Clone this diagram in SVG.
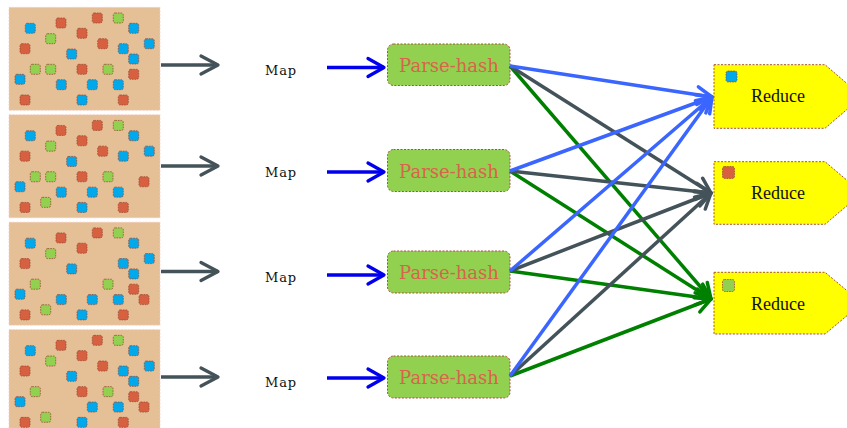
<svg xmlns="http://www.w3.org/2000/svg" width="847" height="428" viewBox="0 0 847 428">
  <style>
    .tile{fill:#e5bf96;stroke:#f4cfc8;stroke-width:0.8;stroke-dasharray:2 1.5}
    .sq{stroke:#9a4b35;stroke-width:0.8;stroke-dasharray:1.6 1}
    .r{fill:#d6603f}
    .b{fill:#00a9ec}
    .g{fill:#92d050}
    .map{font-family:"DejaVu Serif",serif;font-size:13px;letter-spacing:0.9px;fill:#111;text-anchor:middle}
    .ph rect{fill:#92d050;stroke:#a5523a;stroke-width:1;stroke-dasharray:2 1.5}
    .ph text{font-family:"DejaVu Serif",serif;font-size:18px;fill:#d8654a;text-anchor:middle}
    .rd path{fill:#ffff00;stroke:#a5523a;stroke-width:1;stroke-dasharray:2 1.5}
    .rd text{font-family:"Liberation Serif",serif;font-size:18px;fill:#111;text-anchor:middle}
    .cg{stroke:#44535a;stroke-width:3.3;fill:none}
    .cb{stroke:#0000ee;stroke-width:3.3;fill:none}
    .fb{stroke:#3a66ff;stroke-width:3.5;fill:none}
    .fg{stroke:#44535a;stroke-width:3.5;fill:none}
    .fn{stroke:#008000;stroke-width:3.5;fill:none}
  </style>
  <defs>
    <marker id="hGray" markerUnits="userSpaceOnUse" viewBox="-22 -12 26 24" refX="0" refY="0" markerWidth="26" markerHeight="24" orient="auto" overflow="visible">
      <path d="M-17,-9 L0,0 L-17,9" fill="none" stroke="#44535a" stroke-width="3.3" stroke-linecap="round" stroke-linejoin="round"/>
    </marker>
    <marker id="hBlue" markerUnits="userSpaceOnUse" viewBox="-22 -12 26 24" refX="0" refY="0" markerWidth="26" markerHeight="24" orient="auto" overflow="visible">
      <path d="M-16,-9 L0,0 L-16,9" fill="none" stroke="#0000ee" stroke-width="3.3" stroke-linecap="round" stroke-linejoin="round"/>
    </marker>
    <marker id="hFanBlue" markerUnits="userSpaceOnUse" viewBox="-22 -12 26 24" refX="0" refY="0" markerWidth="26" markerHeight="24" orient="auto" overflow="visible">
      <path d="M-15,-8 L0,0 L-15,8" fill="none" stroke="#3a66ff" stroke-width="3.5" stroke-linecap="round" stroke-linejoin="round"/>
    </marker>
    <marker id="hFanGray" markerUnits="userSpaceOnUse" viewBox="-22 -12 26 24" refX="0" refY="0" markerWidth="26" markerHeight="24" orient="auto" overflow="visible">
      <path d="M-15,-8 L0,0 L-15,8" fill="none" stroke="#44535a" stroke-width="3.5" stroke-linecap="round" stroke-linejoin="round"/>
    </marker>
    <marker id="hFanGreen" markerUnits="userSpaceOnUse" viewBox="-22 -12 26 24" refX="0" refY="0" markerWidth="26" markerHeight="24" orient="auto" overflow="visible">
      <path d="M-15,-8 L0,0 L-15,8" fill="none" stroke="#008000" stroke-width="3.5" stroke-linecap="round" stroke-linejoin="round"/>
    </marker>
  </defs>

  <!-- input splits: tan tiles scattered with coloured records -->
  <g id="tile-1" transform="translate(0,7.3)">
    <rect class="tile" x="9" y="0" width="151" height="103"/>
    <rect class="sq r" x="92.3" y="5.7" width="10" height="10" rx="2"/>
    <rect class="sq g" x="113.3" y="5.7" width="10" height="10" rx="2"/>
    <rect class="sq r" x="56" y="10.7" width="10" height="10" rx="2"/>
    <rect class="sq b" x="25.3" y="16" width="10" height="10" rx="2"/>
    <rect class="sq b" x="128.7" y="16" width="10" height="10" rx="2"/>
    <rect class="sq r" x="77" y="21" width="10" height="10" rx="2"/>
    <rect class="sq g" x="45.7" y="26.4" width="10" height="10" rx="2"/>
    <rect class="sq r" x="97.7" y="31.4" width="10" height="10" rx="2"/>
    <rect class="sq b" x="144.3" y="31.4" width="10" height="10" rx="2"/>
    <rect class="sq r" x="20" y="36.4" width="10" height="10" rx="2"/>
    <rect class="sq b" x="118.3" y="36.4" width="10" height="10" rx="2"/>
    <rect class="sq b" x="66.7" y="41.7" width="10" height="10" rx="2"/>
    <rect class="sq b" x="128.7" y="46.7" width="10" height="10" rx="2"/>
    <rect class="sq g" x="30.3" y="57" width="10" height="10" rx="2"/>
    <rect class="sq g" x="45.7" y="57" width="10" height="10" rx="2"/>
    <rect class="sq r" x="77" y="57" width="10" height="10" rx="2"/>
    <rect class="sq g" x="103" y="57" width="10" height="10" rx="2"/>
    <rect class="sq r" x="128.7" y="62" width="10" height="10" rx="2"/>
    <rect class="sq b" x="15" y="67" width="10" height="10" rx="2"/>
    <rect class="sq b" x="56.3" y="72.4" width="10" height="10" rx="2"/>
    <rect class="sq b" x="87.3" y="72.4" width="10" height="10" rx="2"/>
    <rect class="sq b" x="113.3" y="72.4" width="10" height="10" rx="2"/>
    <rect class="sq r" x="20" y="87.7" width="10" height="10" rx="2"/>
    <rect class="sq b" x="77" y="87.7" width="10" height="10" rx="2"/>
    <rect class="sq r" x="118.3" y="87.7" width="10" height="10" rx="2"/>
  </g>

  <g id="tile-2" transform="translate(0,114.75)">
    <rect class="tile" x="9" y="0" width="151" height="103"/>
    <rect class="sq r" x="92.3" y="5.7" width="10" height="10" rx="2"/>
    <rect class="sq g" x="113.3" y="5.7" width="10" height="10" rx="2"/>
    <rect class="sq r" x="56" y="10.7" width="10" height="10" rx="2"/>
    <rect class="sq b" x="25.3" y="16" width="10" height="10" rx="2"/>
    <rect class="sq b" x="128.7" y="16" width="10" height="10" rx="2"/>
    <rect class="sq r" x="77" y="21" width="10" height="10" rx="2"/>
    <rect class="sq g" x="45.7" y="26.4" width="10" height="10" rx="2"/>
    <rect class="sq r" x="97.7" y="31.4" width="10" height="10" rx="2"/>
    <rect class="sq b" x="144.3" y="31.4" width="10" height="10" rx="2"/>
    <rect class="sq r" x="20" y="36.4" width="10" height="10" rx="2"/>
    <rect class="sq b" x="118.3" y="36.4" width="10" height="10" rx="2"/>
    <rect class="sq b" x="66.7" y="41.7" width="10" height="10" rx="2"/>
    <rect class="sq g" x="30.3" y="57" width="10" height="10" rx="2"/>
    <rect class="sq g" x="45.7" y="57" width="10" height="10" rx="2"/>
    <rect class="sq r" x="77" y="57" width="10" height="10" rx="2"/>
    <rect class="sq g" x="103" y="57" width="10" height="10" rx="2"/>
    <rect class="sq r" x="139" y="62" width="10" height="10" rx="2"/>
    <rect class="sq b" x="15" y="67" width="10" height="10" rx="2"/>
    <rect class="sq b" x="56.3" y="72.4" width="10" height="10" rx="2"/>
    <rect class="sq b" x="87.3" y="72.4" width="10" height="10" rx="2"/>
    <rect class="sq b" x="113.3" y="72.4" width="10" height="10" rx="2"/>
    <rect class="sq g" x="40.7" y="82.6" width="10" height="10" rx="2"/>
    <rect class="sq r" x="20" y="87.7" width="10" height="10" rx="2"/>
    <rect class="sq b" x="77" y="87.7" width="10" height="10" rx="2"/>
    <rect class="sq r" x="118.3" y="87.7" width="10" height="10" rx="2"/>
  </g>

  <g id="tile-3" transform="translate(0,222.2)">
    <rect class="tile" x="9" y="0" width="151" height="103"/>
    <rect class="sq r" x="92.3" y="5.7" width="10" height="10" rx="2"/>
    <rect class="sq g" x="113.3" y="5.7" width="10" height="10" rx="2"/>
    <rect class="sq r" x="56" y="10.7" width="10" height="10" rx="2"/>
    <rect class="sq b" x="25.3" y="16" width="10" height="10" rx="2"/>
    <rect class="sq b" x="128.7" y="16" width="10" height="10" rx="2"/>
    <rect class="sq r" x="77" y="21" width="10" height="10" rx="2"/>
    <rect class="sq g" x="45.7" y="26.4" width="10" height="10" rx="2"/>
    <rect class="sq b" x="144.3" y="31.4" width="10" height="10" rx="2"/>
    <rect class="sq r" x="20" y="36.4" width="10" height="10" rx="2"/>
    <rect class="sq b" x="118.3" y="36.4" width="10" height="10" rx="2"/>
    <rect class="sq b" x="66.7" y="41.7" width="10" height="10" rx="2"/>
    <rect class="sq b" x="128.7" y="46.7" width="10" height="10" rx="2"/>
    <rect class="sq g" x="30.3" y="57" width="10" height="10" rx="2"/>
    <rect class="sq g" x="103" y="57" width="10" height="10" rx="2"/>
    <rect class="sq r" x="128.7" y="62" width="10" height="10" rx="2"/>
    <rect class="sq b" x="15" y="67" width="10" height="10" rx="2"/>
    <rect class="sq r" x="139" y="72.4" width="10" height="10" rx="2"/>
    <rect class="sq b" x="56.3" y="72.4" width="10" height="10" rx="2"/>
    <rect class="sq b" x="87.3" y="72.4" width="10" height="10" rx="2"/>
    <rect class="sq b" x="113.3" y="72.4" width="10" height="10" rx="2"/>
    <rect class="sq g" x="40.7" y="82.6" width="10" height="10" rx="2"/>
    <rect class="sq r" x="20" y="87.7" width="10" height="10" rx="2"/>
    <rect class="sq b" x="77" y="87.7" width="10" height="10" rx="2"/>
    <rect class="sq r" x="118.3" y="87.7" width="10" height="10" rx="2"/>
  </g>

  <g id="tile-4" transform="translate(0,329.65)">
    <rect class="tile" x="9" y="0" width="151" height="103"/>
    <rect class="sq r" x="92.3" y="5.7" width="10" height="10" rx="2"/>
    <rect class="sq g" x="113.3" y="5.7" width="10" height="10" rx="2"/>
    <rect class="sq r" x="56" y="10.7" width="10" height="10" rx="2"/>
    <rect class="sq b" x="25.3" y="16" width="10" height="10" rx="2"/>
    <rect class="sq b" x="128.7" y="16" width="10" height="10" rx="2"/>
    <rect class="sq r" x="77" y="21" width="10" height="10" rx="2"/>
    <rect class="sq g" x="45.7" y="26.4" width="10" height="10" rx="2"/>
    <rect class="sq r" x="97.7" y="31.4" width="10" height="10" rx="2"/>
    <rect class="sq b" x="144.3" y="31.4" width="10" height="10" rx="2"/>
    <rect class="sq r" x="20" y="36.4" width="10" height="10" rx="2"/>
    <rect class="sq b" x="118.3" y="36.4" width="10" height="10" rx="2"/>
    <rect class="sq b" x="66.7" y="41.7" width="10" height="10" rx="2"/>
    <rect class="sq b" x="128.7" y="46.7" width="10" height="10" rx="2"/>
    <rect class="sq g" x="30.3" y="57" width="10" height="10" rx="2"/>
    <rect class="sq r" x="77" y="57" width="10" height="10" rx="2"/>
    <rect class="sq g" x="103" y="57" width="10" height="10" rx="2"/>
    <rect class="sq r" x="128.7" y="62" width="10" height="10" rx="2"/>
    <rect class="sq b" x="15" y="67" width="10" height="10" rx="2"/>
    <rect class="sq r" x="139" y="72.4" width="10" height="10" rx="2"/>
    <rect class="sq b" x="87.3" y="72.4" width="10" height="10" rx="2"/>
    <rect class="sq b" x="113.3" y="72.4" width="10" height="10" rx="2"/>
    <rect class="sq g" x="40.7" y="82.6" width="10" height="10" rx="2"/>
    <rect class="sq r" x="20" y="87.7" width="10" height="10" rx="2"/>
    <rect class="sq b" x="77" y="87.7" width="10" height="10" rx="2"/>
    <rect class="sq r" x="118.3" y="87.7" width="10" height="10" rx="2"/>
  </g>

  <!-- map stage labels -->
  <g id="map-1"><text class="map" x="281" y="75">Map</text></g>
  <g id="map-2"><text class="map" x="281" y="177">Map</text></g>
  <g id="map-3"><text class="map" x="281" y="282">Map</text></g>
  <g id="map-4"><text class="map" x="281" y="387">Map</text></g>

  <!-- parse-hash nodes -->
  <g id="parse-1" class="ph"><rect x="387.5" y="44" width="122.5" height="41.5" rx="6"/><text x="449" y="72">Parse-hash</text></g>
  <g id="parse-2" class="ph"><rect x="387.5" y="149.5" width="122.5" height="42" rx="6"/><text x="449" y="178">Parse-hash</text></g>
  <g id="parse-3" class="ph"><rect x="387.5" y="251" width="122.5" height="42" rx="6"/><text x="449" y="279">Parse-hash</text></g>
  <g id="parse-4" class="ph"><rect x="387.5" y="356" width="122.5" height="42" rx="6"/><text x="449" y="384">Parse-hash</text></g>

  <!-- reduce nodes -->
  <g id="reduce-1" class="rd">
    <path d="M714,64.7 H825 L862,96.5 L825,128.3 H714 Z"/>
    <rect class="sq b" x="726" y="71" width="11" height="11" rx="2"/>
    <text x="778" y="102">Reduce</text>
  </g>
  <g id="reduce-2" class="rd">
    <path d="M714,161.7 H825 L862,193 L825,224.3 H714 Z"/>
    <rect class="sq r" x="722.5" y="166.5" width="12" height="12" rx="2"/>
    <text x="778" y="199">Reduce</text>
  </g>
  <g id="reduce-3" class="rd">
    <path d="M714,272.3 H825 L862,303.2 L825,334 H714 Z"/>
    <rect class="sq g" x="722.5" y="279.5" width="12" height="12" rx="2"/>
    <text x="778" y="310">Reduce</text>
  </g>

  <!-- connectors -->
  <g id="connectors">
    <line class="cg" x1="161" y1="65" x2="218" y2="65" marker-end="url(#hGray)"/>
    <line class="cg" x1="161" y1="166" x2="218" y2="166" marker-end="url(#hGray)"/>
    <line class="cg" x1="161" y1="271.5" x2="218" y2="271.5" marker-end="url(#hGray)"/>
    <line class="cg" x1="161" y1="377" x2="218" y2="377" marker-end="url(#hGray)"/>

    <line class="cb" x1="327" y1="67.5" x2="384" y2="67.5" marker-end="url(#hBlue)"/>
    <line class="cb" x1="327" y1="172" x2="384" y2="172" marker-end="url(#hBlue)"/>
    <line class="cb" x1="327" y1="275" x2="384" y2="275" marker-end="url(#hBlue)"/>
    <line class="cb" x1="327" y1="378" x2="384" y2="378" marker-end="url(#hBlue)"/>

    <line class="fn" x1="510" y1="66" x2="711" y2="299" marker-end="url(#hFanGreen)"/>
    <line class="fg" x1="510" y1="66" x2="711" y2="193" marker-end="url(#hFanGray)"/>
    <line class="fn" x1="510" y1="171" x2="711" y2="299" marker-end="url(#hFanGreen)"/>
    <line class="fg" x1="510" y1="171" x2="711" y2="193" marker-end="url(#hFanGray)"/>
    <line class="fn" x1="510" y1="271" x2="711" y2="299" marker-end="url(#hFanGreen)"/>
    <line class="fg" x1="510" y1="271" x2="711" y2="193" marker-end="url(#hFanGray)"/>
    <line class="fn" x1="510" y1="376" x2="711" y2="299" marker-end="url(#hFanGreen)"/>
    <line class="fg" x1="510" y1="376" x2="711" y2="193" marker-end="url(#hFanGray)"/>
    <line class="fb" x1="510" y1="66" x2="712" y2="97" marker-end="url(#hFanBlue)"/>
    <line class="fb" x1="510" y1="171" x2="712" y2="97" marker-end="url(#hFanBlue)"/>
    <line class="fb" x1="510" y1="271" x2="712" y2="97" marker-end="url(#hFanBlue)"/>
    <line class="fb" x1="510" y1="376" x2="712" y2="97" marker-end="url(#hFanBlue)"/>
  </g>
</svg>
